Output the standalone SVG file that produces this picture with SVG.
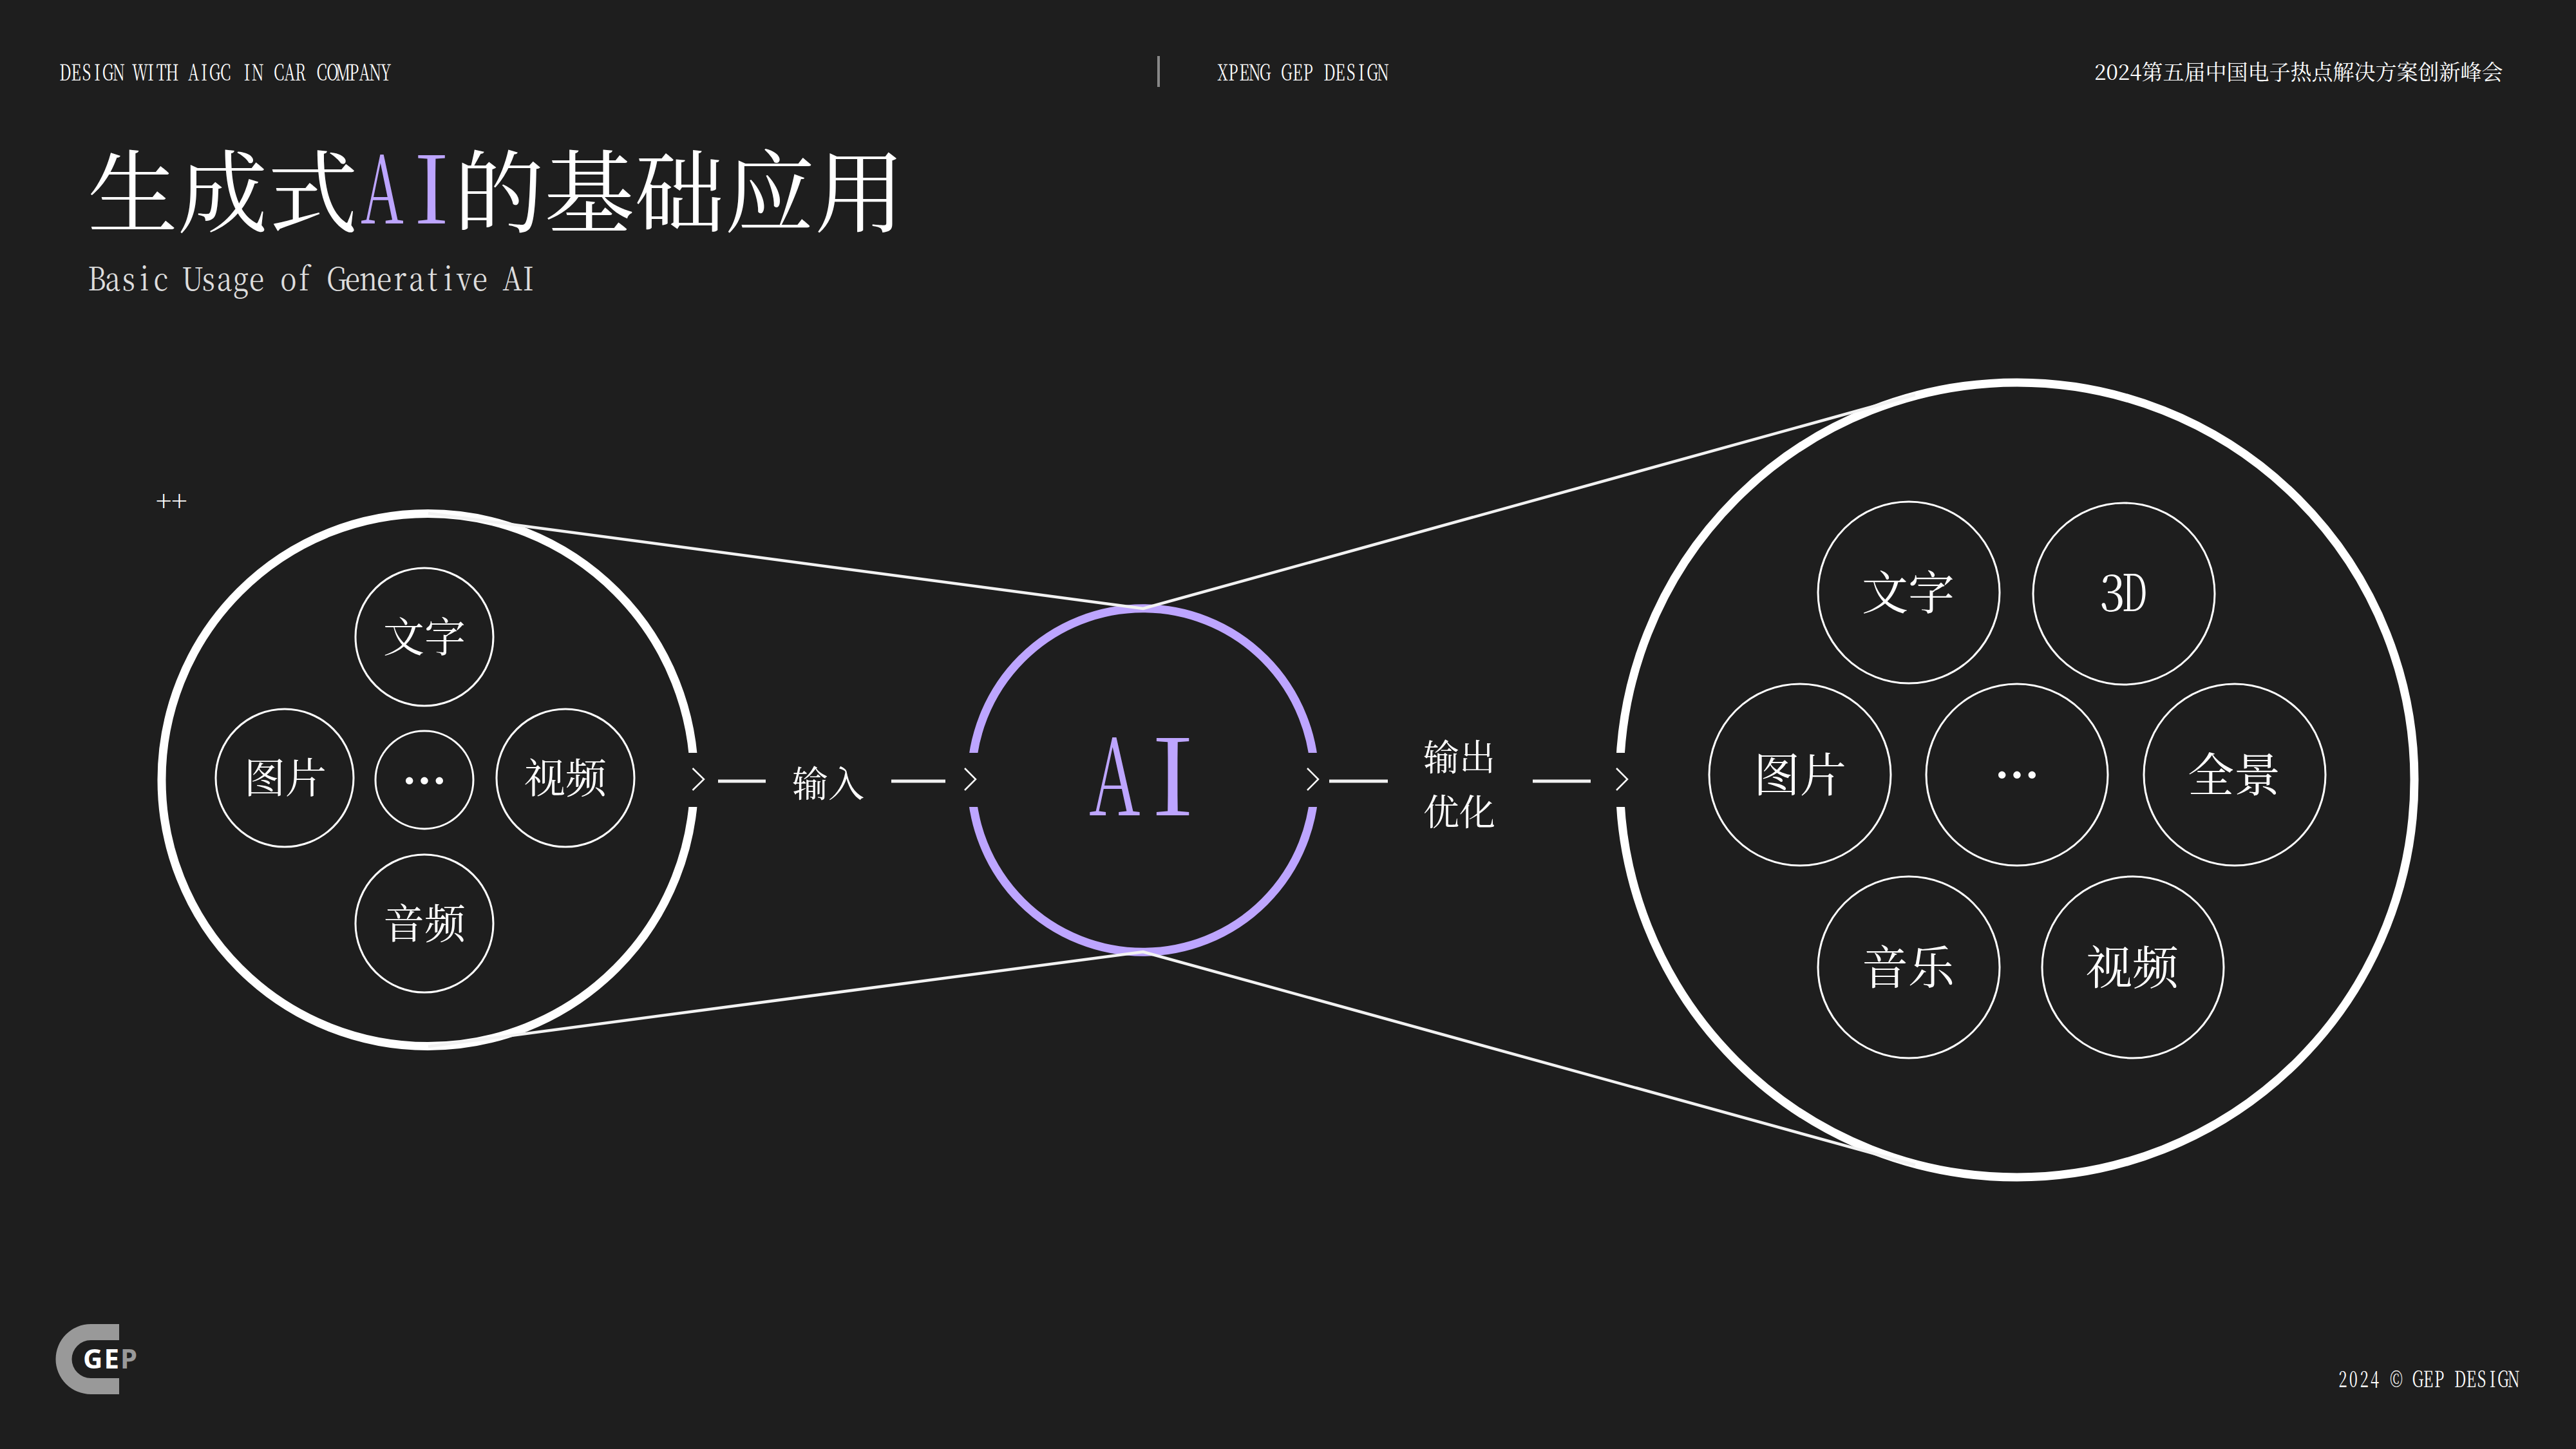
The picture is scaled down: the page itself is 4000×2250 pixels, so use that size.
<svg xmlns="http://www.w3.org/2000/svg" width="4000" height="2250" viewBox="0 0 4000 2250">
<defs>
<clipPath id="gapRight"><path d="M0 0H4000V2250H0ZM900 1169V1253H1200V1169Z" clip-rule="evenodd"/></clipPath>
<clipPath id="gapBoth"><path d="M0 0H4000V1169H0ZM0 1253H4000V2250H0Z"/></clipPath>
<clipPath id="gapLeft"><path d="M0 0H4000V2250H0ZM2400 1169V1253H2700V1169Z" clip-rule="evenodd"/></clipPath>
</defs>
<style>
text{font-family:"Noto Serif CJK SC",serif;fill:#fff}
.c{text-anchor:middle}
.h{font-size:35px}
.t{font-size:64px;text-anchor:middle}
.u{font-size:72px;text-anchor:middle}
.d{font-family:"Noto Sans CJK SC",sans-serif;font-size:70px;font-weight:700;text-anchor:middle}
.l{font-size:56px;text-anchor:middle}
.p{fill:#bda5ff}
.ring{fill:none;stroke:#fff;stroke-width:13}
.s{fill:none;stroke:#fff;stroke-width:3}
.w{fill:none;stroke:#f2f2f2;stroke-width:4.5;stroke-linejoin:bevel}
.a{fill:none;stroke:#fff;stroke-width:2.5}
.b{fill:none;stroke:#f2f2f2;stroke-width:5}
</style>
<rect width="4000" height="2250" fill="#1e1e1e"/>
<g id="header">
<text class="h c" transform="translate(0,125) scale(.68,1)" x="149 173.400 197.800 222.200 246.600 271.100 295.500 319.900 344.300 368.700 393.100 417.500 441.900 466.300 490.700 515.200 539.600 564 588.400 612.800 637.200 661.600 686 710.400 734.800 759.300 783.700 808.100 832.500 856.900 881.300">DESIGN WITH AIGC IN CAR COMPANY</text>
<path d="M1799 87V135" fill="none" stroke="#888" stroke-width="4"/>
<text class="h c" transform="translate(0,125) scale(.68,1)" x="2792 2816 2841 2865 2889 2914 2938 2963 2987 3012 3036 3060 3085 3109 3134 3158">XPENG GEP DESIGN</text>
<text x="3252" y="124" font-size="33">2024第五届中国电子热点解决方案创新峰会</text>
</g>
<g id="title">
<text x="136" y="350" font-size="140">生成式</text>
<text class="p" transform="translate(560,347) scale(.636,1)" font-size="146">A</text>
<text class="p" transform="translate(642,347) scale(.95,1)" font-size="146">I</text>
<text x="705" y="350" font-size="140">的基础应用</text>
<text class="c" transform="translate(0,451) scale(.85,1)" font-size="50" style="fill:#ddd" x="177 206 235 264 294 323 352 381 410 440 469 498 527 556 585 615 644 673 702 731 761 790 819 848 877 907 936 965">Basic Usage of Generative AI</text>
</g>
<text id="plus" x="242" y="793" font-size="42">++</text>
<g id="input-set">
<circle class="ring" cx="664.500" cy="1211" r="413.500" clip-path="url(#gapRight)"/>
<g id="in-text"><circle class="s" cx="659" cy="989" r="107"/><text class="t" x="659" y="1012">文字</text></g>
<g id="in-image"><circle class="s" cx="442" cy="1208" r="107"/><text class="t" x="443" y="1231">图片</text></g>
<g id="in-more"><circle class="s" cx="659" cy="1211" r="76"/><text class="d" x="659" y="1239">…</text></g>
<g id="in-video"><circle class="s" cx="878" cy="1208" r="107"/><text class="t" x="878" y="1231">视频</text></g>
<g id="in-audio"><circle class="s" cx="659" cy="1434" r="107"/><text class="t" x="659" y="1457">音频</text></g>
</g>
<g id="ai">
<circle class="ring" cx="1775" cy="1211.500" r="266.700" style="stroke:#bda5ff" clip-path="url(#gapBoth)"/>
<text class="p" transform="translate(1691,1266) scale(.67,1)" font-size="165">A</text>
<text class="p" transform="translate(1787,1266) scale(1.02,1)" font-size="165">I</text>
</g>
<g id="label-input"><text class="l" x="1286" y="1237">输入</text></g>
<g id="label-output"><text class="l" x="2266" y="1196">输出</text><text class="l" x="2266" y="1281">优化</text></g>
<g id="output-set">
<circle class="ring" cx="3132" cy="1211" r="617" clip-path="url(#gapLeft)"/>
<g id="out-text"><circle class="s" cx="2964" cy="920" r="141"/><text class="u" x="2963" y="946">文字</text></g>
<g id="out-3d"><circle class="s" cx="3298" cy="922" r="141"/><text transform="translate(3260,949) scale(.9,1)" font-size="80">3</text><text transform="translate(3295,949) scale(.64,1)" font-size="80">D</text></g>
<g id="out-image"><circle class="s" cx="2795" cy="1203" r="141"/><text class="u" x="2795" y="1229">图片</text></g>
<g id="out-more"><circle class="s" cx="3132" cy="1203" r="141"/><text class="d" x="3132" y="1230">…</text></g>
<g id="out-pano"><circle class="s" cx="3470" cy="1203" r="141"/><text class="u" x="3469" y="1229">全景</text></g>
<g id="out-music"><circle class="s" cx="2964" cy="1502" r="141"/><text class="u" x="2963" y="1528">音乐</text></g>
<g id="out-video"><circle class="s" cx="3312" cy="1502" r="141"/><text class="u" x="3311" y="1528">视频</text></g>
</g>
<g id="connectors">
<path class="w" d="M665 797L1775 945L2974 613"/>
<path class="w" d="M665 1625L1775 1478L2974 1809"/>
<path class="a" d="M1075.500 1193L1093 1210L1075.500 1227"/>
<path class="a" d="M1498 1193L1515 1210L1498 1227"/>
<path class="a" d="M2030 1193L2047 1210L2030 1227"/>
<path class="a" d="M2510 1193L2527 1210L2510 1227"/>
<path class="b" d="M1115 1213H1189M1384 1213H1468M2064 1213H2155M2380 1213H2470"/>
</g>
<g id="logo">
<path fill="#999" d="M185 2056H141A54.500 54.500 0 0 0 141 2165H185V2140H141A29.500 29.500 0 0 1 141 2081H185Z"/>
<text x="129" y="2125" font-size="42" font-weight="700" style="font-family:'Noto Sans',sans-serif" letter-spacing="2">GE<tspan style="fill:#999">P</tspan></text>
</g>
<text id="footer" class="h c" transform="translate(0,2154) scale(.68,1)" x="5350 5374 5399 5423 5448 5472 5496 5521 5545 5570 5594 5618 5643 5667 5692 5716 5740">2024 © GEP DESIGN</text>
</svg>
